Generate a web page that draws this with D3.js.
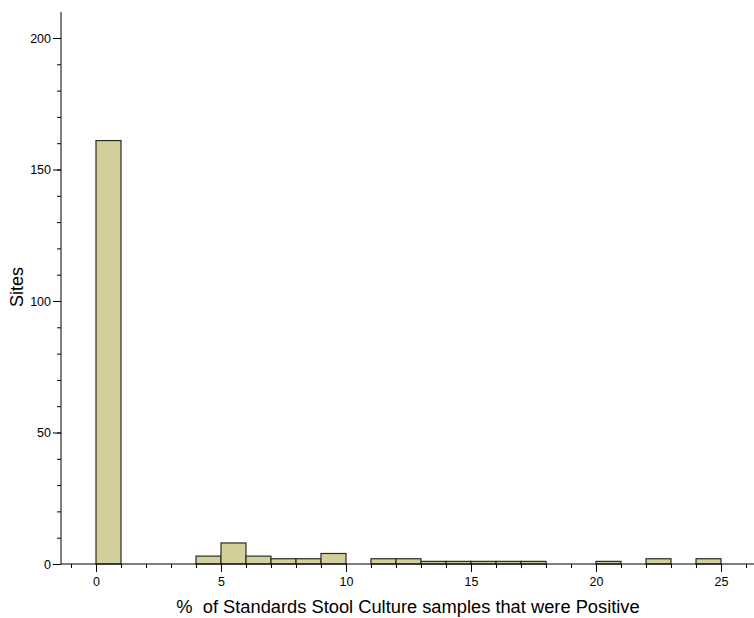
<!DOCTYPE html>
<html>
<head>
<meta charset="utf-8">
<script src="https://cdn.jsdelivr.net/npm/d3@7/dist/d3.min.js"></script>
<style>
  body { margin: 0; background: #fff; }
  svg { display: block; font-family: "Liberation Sans", Arial, sans-serif; }
</style>
</head>
<body>
<svg id="chart" width="754" height="618"></svg>
<script>
// Histogram bins: lower edge (percent) of each 1-point-wide bin and its site count
const binStarts = [0, 4, 5, 6, 7, 8, 9, 11, 12, 13, 14, 15, 16, 17, 20, 22, 24];
const siteCounts = [161, 3, 8, 3, 2, 2, 4, 2, 2, 1, 1, 1, 1, 1, 1, 2, 2];
const xTickValues = [0, 5, 10, 15, 20, 25];
const yTickValues = [0, 50, 100, 150, 200];

const svg = d3.select("#chart");

const x = d3.scaleLinear().domain([-1.4, 26.32]).range([61, 754]);
const y = d3.scaleLinear().domain([0, 200]).range([564, 38]);

// Bars
svg.append("g").selectAll("rect")
  .data(binStarts.map((s, i) => ({ s, v: siteCounts[i] })))
  .join("rect")
  .attr("x", d => x(d.s))
  .attr("width", d => x(d.s + 1) - x(d.s))
  .attr("y", d => y(d.v))
  .attr("height", d => y(0) - y(d.v))
  .attr("fill", "#d3cf9b")
  .attr("stroke", "#2a2a2a")
  .attr("stroke-width", 1.2);

// X axis: minor ticks every unit, labelled majors every 5
const xAxisG = svg.append("g").attr("transform", `translate(0,${y(0)})`);
xAxisG.append("g")
  .call(d3.axisBottom(x).tickValues(d3.range(-1, 27)).tickSize(4).tickFormat(""))
  .call(g => g.select(".domain").remove());
xAxisG.append("g")
  .call(d3.axisBottom(x).tickValues(xTickValues).tickSize(8).tickPadding(5))
  .call(g => g.select(".domain").remove())
  .call(g => g.selectAll("text").attr("font-size", 12.5).attr("fill", "#000"));
xAxisG.append("line")
  .attr("x1", x(-1.4)).attr("x2", 754)
  .attr("stroke", "#000");

// Y axis: minor ticks every 10, labelled majors every 50
const yAxisG = svg.append("g").attr("transform", `translate(${x(-1.4)},0)`);
yAxisG.append("g")
  .call(d3.axisLeft(y).tickValues(d3.range(0, 210, 10)).tickSize(4).tickFormat(""))
  .call(g => g.select(".domain").remove());
yAxisG.append("g")
  .call(d3.axisLeft(y).tickValues(yTickValues).tickSize(8).tickPadding(2))
  .call(g => g.select(".domain").remove())
  .call(g => g.selectAll("text").attr("font-size", 12.5).attr("fill", "#000"));
yAxisG.append("line")
  .attr("y1", y(0)).attr("y2", 12)
  .attr("stroke", "#000");

svg.selectAll(".tick line").attr("stroke", "#000");

// Axis titles
svg.append("text")
  .attr("x", 408).attr("y", 613)
  .attr("text-anchor", "middle")
  .attr("font-size", 18.3)
  .attr("xml:space", "preserve")
  .style("white-space", "pre")
  .text("%  of Standards Stool Culture samples that were Positive");

svg.append("text")
  .attr("transform", "translate(23,287) rotate(-90)")
  .attr("text-anchor", "middle")
  .attr("font-size", 18)
  .text("Sites");
</script>
</body>
</html>
